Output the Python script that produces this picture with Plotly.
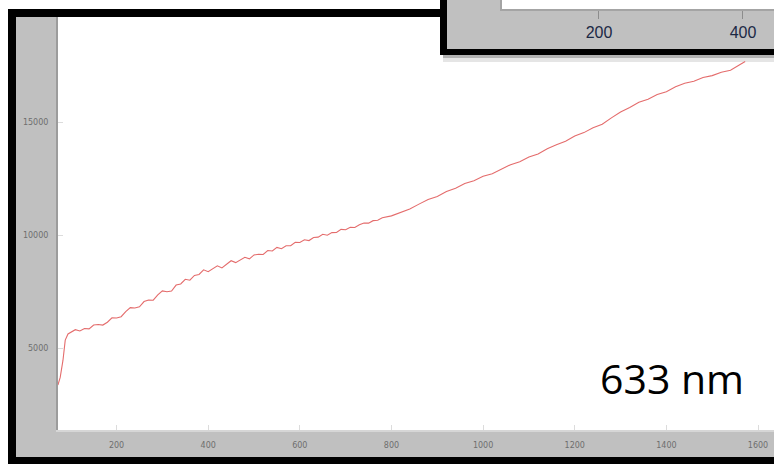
import plotly.graph_objects as go

# Raman spectrum, intensity vs. wavenumber (633 nm excitation)
shift = [72, 77, 83, 88, 94,
         100, 110, 120, 130, 140, 150, 160, 170, 180, 190,
         200, 210, 220, 230, 240, 250, 260, 270, 280, 290,
         300, 310, 320, 330, 340, 350, 360, 370, 380, 390,
         400, 410, 420, 430, 440, 450, 460, 470, 480, 490,
         500, 510, 520, 530, 540, 550, 560, 570, 580, 590,
         600, 610, 620, 630, 640, 650, 660, 670, 680, 690,
         700, 710, 720, 730, 740, 750, 760, 770, 780,
         800, 820, 840, 860, 880, 900, 920, 940, 960, 980,
         1000, 1020, 1040, 1060, 1080, 1100, 1120, 1140, 1160, 1180,
         1200, 1220, 1240, 1260, 1280, 1300, 1320, 1340, 1360, 1380,
         1400, 1420, 1440, 1460, 1480, 1500, 1520, 1540, 1560, 1572]
intensity = [3363, 3700, 4450, 5350, 5620,
             5698, 5810, 5753, 5865, 5848, 6020, 6043, 6015, 6141, 6336,
             6330, 6385, 6609, 6784, 6768, 6823, 7057, 7121, 7116, 7350,
             7525, 7489, 7524, 7784, 7836, 8039, 8001, 8214, 8256, 8461,
             8377, 8522, 8637, 8543, 8708, 8863, 8779, 8884, 9015, 8947,
             9118, 9149, 9140, 9312, 9293, 9454, 9396, 9527, 9528, 9680,
             9671, 9787, 9754, 9890, 9906, 10033, 9989, 10105, 10111, 10248,
             10234, 10340, 10331, 10452, 10533, 10524, 10635, 10656, 10766,
             10848, 11013, 11150, 11367, 11574, 11700, 11927, 12069, 12282, 12404,
             12597, 12709, 12914, 13112, 13241, 13449, 13588, 13816, 13991, 14148,
             14384, 14531, 14748, 14899, 15185, 15440, 15645, 15872, 16009, 16216,
             16343, 16560, 16719, 16801, 16973, 17054, 17206, 17293, 17537, 17676]

x_ticks = [200, 400, 600, 800, 1000, 1200, 1400, 1600]
y_ticks = [5000, 10000, 15000]
inset_ticks = [200, 400]
label = "633 nm"

W, H = 774, 464


def px(x):
    return x / W


def py(y):
    return 1 - y / H


def rect(x0, y0, x1, y1, color):
    return dict(type="rect", xref="paper", yref="paper",
                x0=px(x0), x1=px(x1), y0=py(y1), y1=py(y0),
                fillcolor=color, line=dict(width=0), layer="below")


shapes = [
    rect(8, 9, 820, 480, "#000000"),          # outer frame
    rect(16, 17, 820, 457, "#c0c0c0"),        # window background
    rect(58, 17, 820, 430, "#ffffff"),        # main plot area
    rect(443, 55, 820, 58, "rgba(0,0,0,0.30)"),
    rect(443, 58, 820, 62, "rgba(0,0,0,0.10)"),
    rect(440, -10, 820, 55, "#000000"),       # inset frame
    rect(447, -10, 820, 49, "#c0c0c0"),       # inset background
    rect(502, -10, 820, 9, "#ffffff"),        # inset plot area
]

fig = go.Figure()
fig.add_trace(go.Scatter(x=shift, y=intensity, mode="lines",
                         line=dict(color="#e46c6c", width=1.1),
                         hoverinfo="skip", showlegend=False))
fig.add_trace(go.Scatter(x=[], y=[], xaxis="x2", yaxis="y2",
                         mode="lines", showlegend=False))

small = dict(family="DejaVu Sans", size=8, color="#6e6e6e")

fig.update_layout(
    width=W, height=H, autosize=False,
    margin=dict(l=0, r=0, t=0, b=0, pad=0),
    paper_bgcolor="#ffffff",
    plot_bgcolor="rgba(0,0,0,0)",
    shapes=shapes,
    xaxis=dict(domain=[px(58), 1], range=[72.2, 1634.9],
               tickvals=x_ticks, ticktext=[str(v) for v in x_ticks],
               tickfont=small, ticks="inside", ticklen=5,
               tickcolor="#dcdcdc", showgrid=False, zeroline=False,
               showline=True, linecolor="#d6d6d6", linewidth=2,
               anchor="y", ticklabelstandoff=6),
    yaxis=dict(domain=[py(430), py(17)], range=[1372, 19647],
               tickvals=y_ticks, ticktext=[str(v) for v in y_ticks],
               tickfont=small, ticks="inside", ticklen=5,
               tickcolor="#dcdcdc", showgrid=False, zeroline=False,
               showline=True, linecolor="#9c9c9c", linewidth=2,
               anchor="x", ticklabelstandoff=6),
    xaxis2=dict(domain=[px(502), 1], range=[65.3, 443.1],
                tickvals=inset_ticks, ticktext=[str(v) for v in inset_ticks],
                tickfont=dict(family="Liberation Sans", size=16, color="#1b2845"),
                ticks="outside", ticklen=8, tickcolor="#8c8c8c", tickwidth=1,
                showgrid=False, zeroline=False,
                showline=True, linecolor="#a4a4a4", linewidth=2,
                anchor="y2"),
    yaxis2=dict(domain=[py(9), 1], range=[0, 1], showticklabels=False,
                ticks="", showgrid=False, zeroline=False,
                showline=True, linecolor="#a4a4a4", linewidth=2,
                anchor="x2"),
    annotations=[dict(text=label, xref="paper", yref="paper",
                      x=px(672), y=py(378), xanchor="center", yanchor="middle",
                      showarrow=False,
                      font=dict(family="Open Sans", size=41, color="#000000"))],
)

fig.write_html("out.html")
